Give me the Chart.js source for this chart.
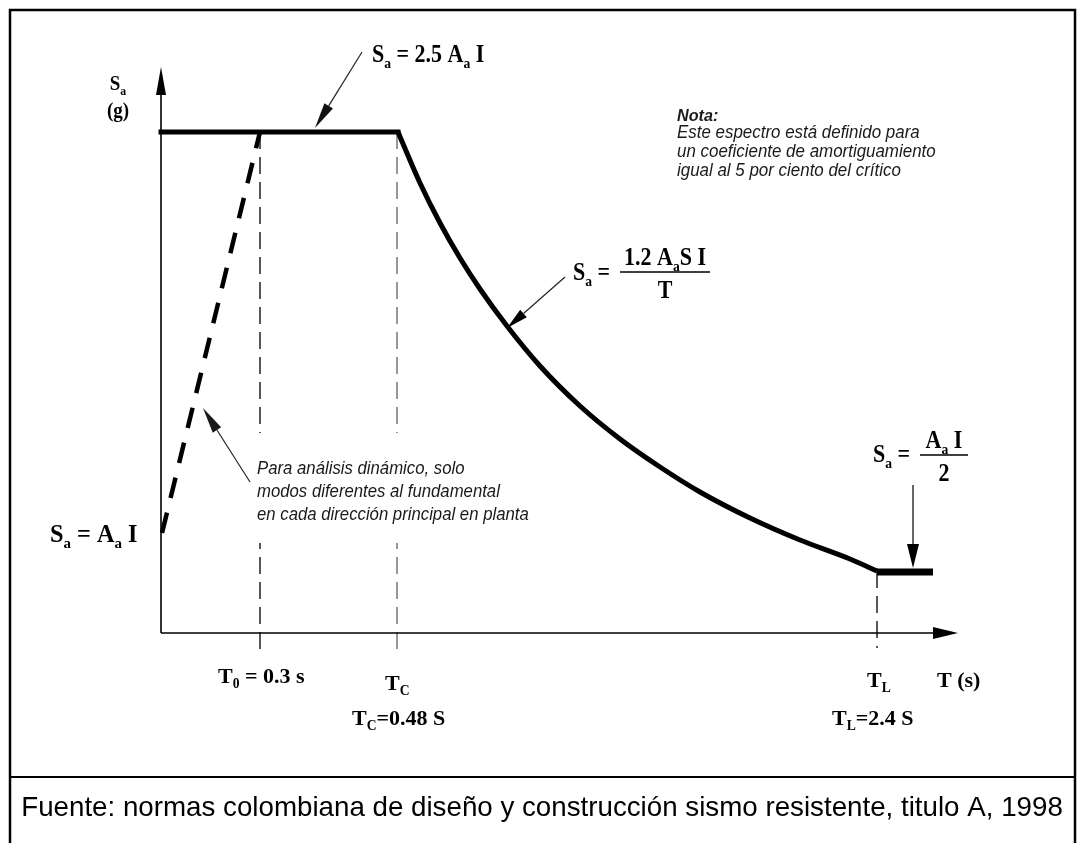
<!DOCTYPE html>
<html>
<head>
<meta charset="utf-8">
<script src="https://cdn.jsdelivr.net/npm/chart.js@4"></script>
<style>
  html, body { margin: 0; padding: 0; background: #fff; }
  #wrap { position: relative; width: 1083px; height: 843px; }
</style>
</head>
<body>
<div id="wrap"><canvas id="espectro" width="1083" height="843"></canvas></div>
<script>
// espectro de diseño (esquemático): T y Sa en unidades del dibujo
const plateauT  = [0, 237];
const plateauSa = [501, 501];
const curveT  = [237, 259, 279, 299, 319, 346, 379, 419, 459, 499, 539, 589, 639, 689, 716];
const curveSa = [501, 450, 410, 375, 344, 307, 267, 227, 194, 166, 141, 115, 93, 74, 62];
const tailT  = [716, 772];
const tailSa = [61, 61];
const rampT  = [1, 99];
const rampSa = [100, 501];
// T0, Tc, TL
const markT      = [99, 236, 716];
const markTop    = [501, 501, 62];
const markBottom = [-24, -17, -15];

const SERIF = '"Liberation Serif", "Times New Roman", serif';
const SANS = '"Liberation Sans", Arial, sans-serif';

const pts = (xs, ys) => xs.map((x, i) => ({ x: x, y: ys[i] }));

function parseMath(s) {
    const out = [];
    for (let i = 0; i < s.length; i++) {
        if (s[i] === '_') { out.push({ t: s[i + 1], sub: true }); i++; }
        else if (out.length && !out[out.length - 1].sub) out[out.length - 1].t += s[i];
        else out.push({ t: s[i], sub: false });
    }
    return out;
}

function mathWidth(ctx, s, size, sx) {
    let w = 0;
    parseMath(s).forEach(p => {
        ctx.font = 'bold ' + (p.sub ? size * 0.62 : size) + 'px ' + SERIF;
        w += ctx.measureText(p.t).width * sx;
    });
    return w;
}

function drawMath(ctx, s, x, y, size, sx, align) {
    if (align === 'center') x -= mathWidth(ctx, s, size, sx) / 2;
    parseMath(s).forEach(p => {
        ctx.font = 'bold ' + (p.sub ? size * 0.62 : size) + 'px ' + SERIF;
        ctx.save();
        ctx.translate(x, y + (p.sub ? size * 0.22 : 0));
        ctx.scale(sx, 1);
        ctx.fillText(p.t, 0, 0);
        ctx.restore();
        x += ctx.measureText(p.t).width * sx;
    });
}

function drawFrac(ctx, num, den, cx, barY, halfW, size, sx) {
    drawMath(ctx, num, cx, barY - 7, size, sx, 'center');
    drawMath(ctx, den, cx, barY + 26, size, sx, 'center');
    ctx.lineWidth = 1.5;
    ctx.beginPath();
    ctx.moveTo(cx - halfW, barY);
    ctx.lineTo(cx + halfW, barY);
    ctx.stroke();
}

function sansText(ctx, s, x, y, font, sx, align) {
    ctx.save();
    ctx.font = font;
    ctx.textAlign = align || 'left';
    ctx.translate(x, y);
    ctx.scale(sx, 1);
    ctx.fillText(s, 0, 0);
    ctx.restore();
}

function arrow(ctx, x1, y1, x2, y2, len, hw, lw) {
    const a = Math.atan2(y2 - y1, x2 - x1);
    const bx = x2 - len * Math.cos(a), by = y2 - len * Math.sin(a);
    ctx.lineWidth = lw || 1.2;
    ctx.beginPath();
    ctx.moveTo(x1, y1);
    ctx.lineTo(bx, by);
    ctx.stroke();
    ctx.beginPath();
    ctx.moveTo(x2, y2);
    ctx.lineTo(bx + hw * Math.sin(a), by - hw * Math.cos(a));
    ctx.lineTo(bx - hw * Math.sin(a), by + hw * Math.cos(a));
    ctx.closePath();
    ctx.fill();
}

const decor = {
    id: 'decor',
    afterDatasetsDraw(chart) {
        const ctx = chart.ctx;
        const xs = chart.scales.x, ys = chart.scales.y;
        const x0 = xs.getPixelForValue(0), y0 = ys.getPixelForValue(0);
        ctx.save();
        ctx.fillStyle = '#000';
        ctx.strokeStyle = '#000';
        ctx.textBaseline = 'alphabetic';

        // ejes con flecha
        arrow(ctx, x0, y0, x0, ys.getPixelForValue(566), 28, 5, 1.6);
        arrow(ctx, x0, y0, xs.getPixelForValue(797), y0, 25, 6, 1.6);

        // etiqueta eje vertical
        drawMath(ctx, 'S_a', 118, 90, 21, 0.9, 'center');
        drawMath(ctx, '(g)', 118, 117, 20, 0.95, 'center');

        // meseta
        drawMath(ctx, 'S_a = 2.5 A_a I', 372, 62, 25, 0.88);
        ctx.strokeStyle = '#222';
        ctx.fillStyle = '#111';
        arrow(ctx, 362, 52, 315, 128, 26, 5);
        ctx.fillStyle = '#000';
        ctx.strokeStyle = '#000';

        // nota
        ctx.fillStyle = '#1a1a1a';
        sansText(ctx, 'Nota:', 677, 121, 'italic bold 17px ' + SANS, 0.95);
        sansText(ctx, 'Este espectro está definido para', 677, 138, 'italic 18px ' + SANS, 0.94);
        sansText(ctx, 'un coeficiente de amortiguamiento', 677, 157, 'italic 18px ' + SANS, 0.94);
        sansText(ctx, 'igual al 5 por ciento del crítico', 677, 176, 'italic 18px ' + SANS, 0.94);
        ctx.fillStyle = '#000';

        // rama descendente
        drawMath(ctx, 'S_a =', 573, 280, 25, 0.88);
        drawFrac(ctx, '1.2 A_aS I', 'T', 665, 272, 45, 25, 0.88);
        ctx.strokeStyle = '#222';
        arrow(ctx, 565, 277, 507, 328, 22, 5);
        ctx.strokeStyle = '#000';

        // nota análisis dinámico
        ctx.fillStyle = '#fff';
        ctx.fillRect(248, 433, 292, 110);
        ctx.fillStyle = '#1a1a1a';
        sansText(ctx, 'Para análisis dinámico, solo', 257, 474, 'italic 18px ' + SANS, 0.93);
        sansText(ctx, 'modos diferentes al fundamental', 257, 497, 'italic 18px ' + SANS, 0.93);
        sansText(ctx, 'en cada dirección principal en planta', 257, 520, 'italic 18px ' + SANS, 0.93);
        ctx.strokeStyle = '#222';
        arrow(ctx, 250, 482, 203, 408, 26, 5);
        ctx.strokeStyle = '#000';
        ctx.fillStyle = '#000';

        drawMath(ctx, 'S_a = A_a I', 50, 542, 25, 0.97);

        // tramo final
        drawMath(ctx, 'S_a =', 873, 462, 25, 0.88);
        drawFrac(ctx, 'A_a I', '2', 944, 455, 24, 25, 0.88);
        arrow(ctx, 913, 485, 913, 568, 24, 6);

        // periodos
        drawMath(ctx, 'T_0 = 0.3 s', 218, 683, 22, 1);
        drawMath(ctx, 'T_C', 385, 690, 22, 1);
        drawMath(ctx, 'T_C=0.48 S', 352, 725, 22, 1);
        drawMath(ctx, 'T_L', 867, 687, 22, 1);
        drawMath(ctx, 'T (s)', 937, 687, 22, 1);
        drawMath(ctx, 'T_L=2.4 S', 832, 725, 22, 1);
        ctx.restore();
    },
    afterDraw(chart) {
        const ctx = chart.ctx;
        ctx.save();
        ctx.strokeStyle = '#000';
        ctx.lineWidth = 2.5;
        ctx.beginPath();
        ctx.moveTo(10, 843);
        ctx.lineTo(10, 10);
        ctx.lineTo(1075, 10);
        ctx.lineTo(1075, 843);
        ctx.stroke();
        ctx.lineWidth = 2;
        ctx.beginPath();
        ctx.moveTo(10, 777);
        ctx.lineTo(1075, 777);
        ctx.stroke();
        ctx.fillStyle = '#000';
        sansText(ctx, 'Fuente: normas colombiana de diseño y construcción sismo resistente, titulo A, 1998',
            542, 816, '28px ' + SANS, 0.99, 'center');
        ctx.restore();
    }
};

const markColors = ['#222', '#777', '#222'];
const datasets = [
    {
        data: pts(plateauT, plateauSa), borderColor: '#000', borderWidth: 5,
        borderCapStyle: 'square', clip: false
    },
    {
        data: pts(curveT, curveSa), borderColor: '#000', borderWidth: 5,
        cubicInterpolationMode: 'monotone', clip: false
    },
    {
        data: pts(tailT, tailSa), borderColor: '#000', borderWidth: 7,
        borderCapStyle: 'butt', clip: false
    },
    {
        data: pts(rampT, rampSa), borderColor: '#000', borderWidth: 4.5,
        borderDash: [21, 15], borderCapStyle: 'butt', clip: false
    }
];
markT.forEach((t, i) => {
    datasets.push({
        data: [{ x: t, y: markTop[i] }, { x: t, y: markBottom[i] }],
        borderColor: markColors[i], borderWidth: 1.5, borderDash: [17, 8], clip: false
    });
});
datasets.forEach(d => { d.showLine = true; d.pointRadius = 0; d.fill = false; });

const ctx = document.getElementById('espectro').getContext('2d');
new Chart(ctx, {
    type: 'scatter',
    data: { datasets: datasets },
    options: {
        responsive: false,
        animation: false,
        layout: { padding: { left: 161, right: 122, top: 65, bottom: 210 } },
        scales: {
            x: { type: 'linear', min: 0, max: 800, display: false },
            y: { type: 'linear', min: 0, max: 568, display: false }
        },
        plugins: { legend: { display: false }, tooltip: { enabled: false } }
    },
    plugins: [decor]
});
</script>
</body>
</html>
